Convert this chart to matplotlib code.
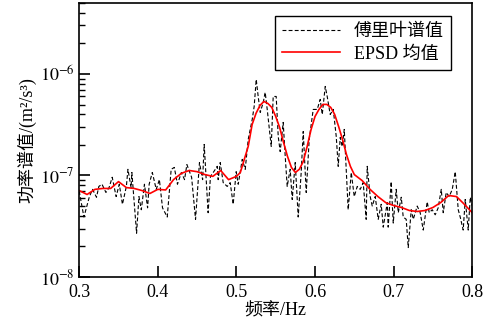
import numpy as np
import matplotlib
matplotlib.use('Agg')
import matplotlib.pyplot as plt

plt.rcParams['font.family'] = ['Liberation Serif', 'Noto Sans CJK SC']
plt.rcParams['mathtext.fontset'] = 'stix'

# Fourier spectrum (black dashed), values in 1e-8 m^2/s^3
f_fourier = [0.300, 0.306, 0.313, 0.317, 0.322, 0.325, 0.329, 0.334, 0.338, 0.342,
             0.347, 0.351, 0.355, 0.360, 0.362, 0.366, 0.367, 0.373, 0.376, 0.379,
             0.383, 0.387, 0.389, 0.393, 0.398, 0.402, 0.406, 0.412, 0.417, 0.421,
             0.425, 0.430, 0.434, 0.437, 0.443, 0.448, 0.453, 0.457, 0.459, 0.464,
             0.467, 0.4705, 0.4756, 0.4768, 0.4794, 0.4832, 0.4883, 0.4921, 0.4959, 0.4997,
             0.5023, 0.5074, 0.5112, 0.515, 0.5201, 0.5226, 0.5252, 0.5277, 0.5303, 0.5341,
             0.5366, 0.5392, 0.5443, 0.5468, 0.5506, 0.5532, 0.5557, 0.5595, 0.5621, 0.5646,
             0.5684, 0.571, 0.5748, 0.5786, 0.5824, 0.585, 0.5888, 0.5926, 0.5977, 0.6028,
             0.6066, 0.6092, 0.613, 0.6155, 0.6193, 0.6232, 0.627, 0.6295, 0.6321, 0.6346,
             0.6372, 0.6422, 0.6461, 0.6499, 0.6537, 0.6575, 0.6613, 0.6651, 0.6664, 0.6702,
             0.6728, 0.6766, 0.6804, 0.6842, 0.6868, 0.6919, 0.6931, 0.6969, 0.6995, 0.7033,
             0.7059, 0.7097, 0.7122, 0.716, 0.7186, 0.7224, 0.725, 0.730, 0.7338, 0.7377,
             0.7427, 0.7453, 0.7491, 0.7529, 0.7567, 0.7606, 0.7631, 0.7669, 0.7707, 0.7746,
             0.7784, 0.7822, 0.7847, 0.7885, 0.7911, 0.7949, 0.7975, 0.800]
psd_fourier = [7.0, 3.9, 6.2, 7.3, 6.1, 7.8, 8.2, 6.8, 7.6, 9.6,
               6.2, 8.2, 5.2, 7.8, 11.5, 7.6, 10.7, 2.7, 6.2, 4.6,
               8.2, 4.8, 8.2, 10.7, 7.3, 9.1, 4.8, 3.9, 11.5, 12.0,
               8.2, 10.7, 9.1, 12.8, 9.6, 3.7, 13.4, 9.1, 20.2, 4.3,
               9.8, 10.7, 12.3, 9.1, 13.4, 8.5, 7.8, 8.5, 5.2, 10.9,
               8.2, 14.4, 11.5, 22.6, 35.6, 47.9, 88.3, 60.0, 41.8, 52.4,
               65.8, 44.7, 19.3, 60.0, 60.0, 24.2, 17.2, 33.3, 15.4, 7.8,
               11.5, 5.8, 13.4, 3.9, 10.7, 27.1, 6.8, 22.6, 44.7, 44.7,
               56.1, 39.9, 75.3, 60.0, 39.9, 44.7, 24.2, 12.3, 23.7, 19.3,
               28.4, 4.6, 10.7, 6.2, 7.8, 7.3, 8.5, 3.7, 12.3, 6.2,
               5.0, 6.2, 3.7, 5.2, 3.1, 5.4, 3.1, 8.7, 3.4, 7.3,
               4.3, 6.1, 3.9, 3.7, 1.95, 4.6, 3.7, 5.0, 4.3, 2.9,
               5.5, 4.3, 4.6, 4.1, 4.8, 7.3, 4.3, 6.8, 6.2, 7.3,
               10.9, 4.6, 3.9, 2.9, 5.8, 2.9, 6.1, 5.0]

# EPSD mean (red), values in 1e-8 m^2/s^3
f_epsd = [0.30, 0.31, 0.32, 0.33, 0.34, 0.35, 0.36, 0.37, 0.38, 0.39,
          0.40, 0.41, 0.42, 0.43, 0.44, 0.45, 0.46, 0.47, 0.48, 0.49,
          0.50, 0.505, 0.51, 0.515, 0.52, 0.525, 0.53, 0.535, 0.54, 0.545,
          0.55, 0.555, 0.56, 0.565, 0.57, 0.575, 0.58, 0.585, 0.59, 0.595,
          0.60, 0.605, 0.61, 0.615, 0.62, 0.625, 0.63, 0.635, 0.64, 0.645,
          0.65, 0.66, 0.67, 0.68, 0.69,
          0.70, 0.71, 0.72, 0.73, 0.74, 0.75, 0.76, 0.77, 0.78, 0.79, 0.80]
psd_epsd = [7.1, 6.5, 7.3, 7.45, 7.45, 8.7, 7.6, 7.45, 7.1, 6.65,
            7.3, 7.2, 9.1, 10.5, 11.2, 10.9, 10.2, 9.8, 11.2, 9.1,
            9.8, 10.7, 14.4, 19.3, 31.8, 41.0, 49.0, 53.6, 51.2, 46.8,
            38.1, 29.7, 21.1, 15.4, 12.0, 10.7, 11.5, 13.7, 19.3, 28.4,
            38.1, 44.7, 50.1, 50.1, 46.8, 39.9, 30.4, 22.6, 16.1, 12.3,
            10.2, 8.9, 7.3, 6.2, 5.4,
            5.06, 4.84, 4.52, 4.42, 4.52, 4.84, 5.42, 6.35, 6.2, 5.2, 4.3]

scale = 1e-8

fig = plt.figure(figsize=(4.95, 3.29), dpi=100)
ax = fig.add_axes([0.160, 0.158, 0.794, 0.833])

ax.plot(f_fourier, np.array(psd_fourier) * scale, color='black', lw=0.8,
        linestyle=(0, (3.5, 2)), label='傅里叶谱值')
ax.plot(f_epsd, np.array(psd_epsd) * scale, color='red', lw=1.2, label='EPSD 均值')

ax.set_yscale('log')
ax.set_xlim(0.3, 0.8)
ax.set_ylim(1e-8, 5e-6)
ax.set_xticks([0.3, 0.4, 0.5, 0.6, 0.7, 0.8])
ax.set_xticklabels(['0.3', '0.4', '0.5', '0.6', '0.7', '0.8'])
ax.set_yticks([1e-8, 1e-7, 1e-6])
ax.set_yticklabels([r'$10^{-8}$', r'$10^{-7}$', r'$10^{-6}$'])

ax.tick_params(axis='both', which='major', direction='in', length=8, width=1.2,
               labelsize=13, top=False, right=False)
ax.tick_params(axis='x', which='major', pad=5)
ax.tick_params(axis='y', which='minor', direction='in', length=4, width=1.0, right=False)
ax.tick_params(axis='x', which='minor', bottom=False, top=False)
for s in ax.spines.values():
    s.set_linewidth(1.2)

ax.set_xlabel('频率/Hz', fontsize=13, labelpad=1)
ax.set_ylabel('功率谱值/(m²/s³)', fontsize=13, labelpad=2)

leg = ax.legend(loc='upper right', bbox_to_anchor=(0.947, 0.953), borderaxespad=0,
                fontsize=13, fancybox=False, framealpha=1, edgecolor='black',
                handlelength=3.2, borderpad=0.4, labelspacing=0.3)
leg.get_frame().set_linewidth(1.0)

fig.savefig('out.png', dpi=100)
